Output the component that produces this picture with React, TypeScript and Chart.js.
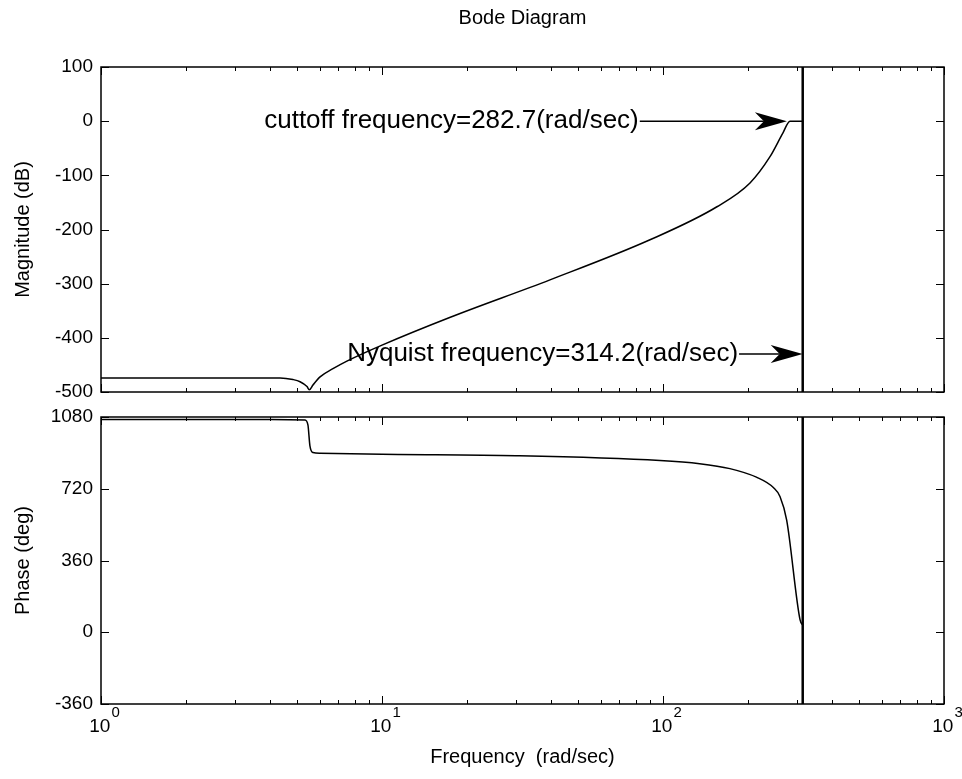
import React, { useEffect, useRef } from 'react';
import { Chart, registerables } from 'chart.js';

Chart.register(...registerables);

const FONT = 'Arial, "Liberation Sans", Helvetica, sans-serif';

// ---- data ----
const MAG_FREQ = [1, 4, 4.34, 4.82, 5.11, 5.41, 5.51, 5.68, 6.02, 6.69, 7.5, 10.05, 17.5, 39.6, 89.9, 155.6, 204, 240, 267, 283, 314.2];
const MAG_DB = [-474, -474, -474, -477, -481, -490, -496, -487, -472, -457, -443, -413, -362, -293, -219, -158, -114, -66, -22, 0, 0];

const PHASE_FREQ = [1, 4, 5.32, 5.45, 5.54, 5.68, 6.02, 10, 30, 97.6, 135, 173, 215, 247, 261, 275.5, 307.5, 314.2];
const PHASE_DEG = [1068, 1068, 1065, 1040, 935, 902, 898, 893, 886, 862, 846, 821, 778, 726, 680, 563, 62, 36];

const NYQUIST_FREQ = 314.2;

const X_MIN = 1;
const X_MAX = 1000;
const MAG_MIN = -500;
const MAG_MAX = 100;
const MAG_STEP = 100;
const PHASE_MIN = -360;
const PHASE_MAX = 1080;
const PHASE_STEP = 360;

const X_LABEL_VALUES = [1, 10, 100, 1000];
const X_LABEL_BASE = '10';
const X_LABEL_EXPONENTS = ['0', '1', '2', '3'];
const X_MAJOR_TICKS = [1, 10, 100, 1000];
const X_MINOR_TICKS = [2, 3, 4, 5, 6, 7, 8, 9, 20, 30, 40, 50, 60, 70, 80, 90, 200, 300, 400, 500, 600, 700, 800, 900];

const TITLE = 'Bode Diagram';
const MAG_LABEL = 'Magnitude (dB)';
const PHASE_LABEL = 'Phase (deg)';
const X_LABEL = 'Frequency  (rad/sec)';

const ANNOT_TEXTS = ['cuttoff frequency=282.7(rad/sec)', 'Nyquist frequency=314.2(rad/sec)'];
const ANNOT_TAIL_FREQ = [82, 185];
const ANNOT_TIP_FREQ = [276, 314.2];
const ANNOT_DB = [0, -430];

// ---- plugins ----
const framePlugin = {
  id: 'matlabFrame',
  afterDraw(chart: any) {
    const { ctx, chartArea } = chart;
    const { left, right, top, bottom } = chartArea;
    const xs = chart.scales.x;
    const ys = chart.scales.y;
    ctx.save();
    ctx.strokeStyle = '#000';
    ctx.lineWidth = 1;
    ctx.beginPath();
    const drawX = (v: number, len: number) => {
      const px = Math.round(xs.getPixelForValue(v)) + 0.5;
      ctx.moveTo(px, bottom);
      ctx.lineTo(px, bottom - len);
      ctx.moveTo(px, top);
      ctx.lineTo(px, top + len);
    };
    X_MAJOR_TICKS.forEach((v) => drawX(v, 8));
    X_MINOR_TICKS.forEach((v) => drawX(v, 4));
    ys.ticks.forEach((t: any) => {
      const py = Math.round(ys.getPixelForValue(t.value)) + 0.5;
      ctx.moveTo(left, py);
      ctx.lineTo(left + 8, py);
      ctx.moveTo(right, py);
      ctx.lineTo(right - 8, py);
    });
    ctx.stroke();
    ctx.lineWidth = 1.5;
    ctx.strokeRect(left, top, right - left, bottom - top);
    ctx.restore();
  },
};

const annotPlugin = {
  id: 'bodeAnnotations',
  afterDatasetsDraw(chart: any) {
    const { ctx } = chart;
    const xs = chart.scales.x;
    const ys = chart.scales.y;
    ctx.save();
    ctx.fillStyle = '#000';
    ctx.strokeStyle = '#000';
    ctx.font = `26px ${FONT}`;
    ANNOT_TEXTS.forEach((txt, i) => {
      const tailX = xs.getPixelForValue(ANNOT_TAIL_FREQ[i]);
      const tipX = xs.getPixelForValue(ANNOT_TIP_FREQ[i]);
      const y = ys.getPixelForValue(ANNOT_DB[i]);
      ctx.textAlign = 'right';
      ctx.textBaseline = 'middle';
      ctx.fillText(txt, tailX, y);
      const headLen = 32;
      const headW = 9;
      const notch = 9;
      ctx.lineWidth = 1.5;
      ctx.beginPath();
      ctx.moveTo(tailX + 1, y);
      ctx.lineTo(tipX - headLen + notch, y);
      ctx.stroke();
      ctx.beginPath();
      ctx.moveTo(tipX, y);
      ctx.lineTo(tipX - headLen, y - headW);
      ctx.lineTo(tipX - headLen + notch, y);
      ctx.lineTo(tipX - headLen, y + headW);
      ctx.closePath();
      ctx.fill();
    });
    ctx.restore();
  },
};

const xLabelPlugin = {
  id: 'powerLabels',
  afterDraw(chart: any) {
    const { ctx, chartArea } = chart;
    const xs = chart.scales.x;
    ctx.save();
    ctx.fillStyle = '#000';
    ctx.textAlign = 'left';
    ctx.textBaseline = 'alphabetic';
    X_LABEL_VALUES.forEach((v, i) => {
      const px = xs.getPixelForValue(v);
      ctx.font = `19px ${FONT}`;
      const wb = ctx.measureText(X_LABEL_BASE).width;
      ctx.font = `15px ${FONT}`;
      const we = ctx.measureText(X_LABEL_EXPONENTS[i]).width;
      const start = px - (wb + we) / 2 + 3;
      ctx.font = `19px ${FONT}`;
      ctx.fillText(X_LABEL_BASE, start, chartArea.bottom + 28);
      ctx.font = `15px ${FONT}`;
      ctx.fillText(X_LABEL_EXPONENTS[i], start + wb + 1, chartArea.bottom + 13);
    });
    ctx.restore();
  },
};

const lineDs = (xsArr: number[], ysArr: number[], width: number, mono: boolean) => ({
  data: xsArr.map((x, i) => ({ x, y: ysArr[i] })),
  showLine: true,
  borderColor: '#000',
  backgroundColor: '#000',
  borderWidth: width,
  pointRadius: 0,
  fill: false,
  cubicInterpolationMode: mono ? 'monotone' : 'default',
  tension: 0,
});

const yAxis = (min: number, max: number, step: number, label: string) => ({
  type: 'linear',
  position: 'left',
  min,
  max,
  ticks: {
    stepSize: step,
    color: '#000',
    font: { size: 19, family: FONT },
    padding: 8,
    callback: (v: any) => String(v),
  },
  grid: { display: false, drawTicks: false },
  border: { display: false },
  title: {
    display: true,
    text: label,
    color: '#000',
    font: { size: 20, family: FONT },
    padding: { top: 11, bottom: 0 },
  },
  afterFit: (scale: any) => {
    scale.width = 101;
  },
});

export default function App() {
  const topRef = useRef<HTMLCanvasElement>(null);
  const botRef = useRef<HTMLCanvasElement>(null);

  useEffect(() => {
    Chart.defaults.font.family = FONT;
    const top = new Chart(topRef.current as HTMLCanvasElement, {
      type: 'scatter',
      data: {
        datasets: [
          lineDs(MAG_FREQ, MAG_DB, 1.5, true),
          lineDs([NYQUIST_FREQ, NYQUIST_FREQ], [MAG_MIN, MAG_MAX], 2.5, false),
        ] as any,
      },
      options: {
        responsive: false,
        animation: false,
        events: [],
        layout: { padding: { left: 0, top: 0, right: 18, bottom: 387 } },
        plugins: {
          legend: { display: false },
          tooltip: { enabled: false },
          title: {
            display: true,
            text: TITLE,
            fullSize: false,
            color: '#000',
            font: { size: 20, family: FONT, weight: 'normal' },
            padding: { top: 6, bottom: 37 },
          },
        },
        scales: {
          x: { type: 'logarithmic', min: X_MIN, max: X_MAX, display: false },
          y: yAxis(MAG_MIN, MAG_MAX, MAG_STEP, MAG_LABEL),
        },
      } as any,
      plugins: [framePlugin, annotPlugin],
    });

    const bot = new Chart(botRef.current as HTMLCanvasElement, {
      type: 'scatter',
      data: {
        datasets: [
          lineDs(PHASE_FREQ, PHASE_DEG, 1.5, true),
          lineDs([NYQUIST_FREQ, NYQUIST_FREQ], [PHASE_MIN, PHASE_MAX], 2.5, false),
        ] as any,
      },
      options: {
        responsive: false,
        animation: false,
        events: [],
        layout: { padding: { left: 0, top: 417, right: 18, bottom: 0 } },
        plugins: {
          legend: { display: false },
          tooltip: { enabled: false },
        },
        scales: {
          x: {
            type: 'logarithmic',
            min: X_MIN,
            max: X_MAX,
            ticks: { display: false },
            grid: { display: false, drawTicks: false },
            border: { display: false },
            title: {
              display: true,
              text: X_LABEL,
              color: '#000',
              font: { size: 20, family: FONT },
              padding: { top: 0, bottom: 10 },
            },
            afterFit: (scale: any) => {
              scale.height = 75;
            },
          },
          y: yAxis(PHASE_MIN, PHASE_MAX, PHASE_STEP, PHASE_LABEL),
        },
      } as any,
      plugins: [framePlugin, xLabelPlugin],
    });

    return () => {
      top.destroy();
      bot.destroy();
    };
  }, []);

  const canvasStyle: React.CSSProperties = { position: 'absolute', left: 0, top: 0, display: 'block' };
  return (
    <div style={{ position: 'absolute', left: 0, top: 0, width: 962, height: 779, background: '#fff', overflow: 'hidden' }}>
      <canvas ref={topRef} width={962} height={779} style={canvasStyle} />
      <canvas ref={botRef} width={962} height={779} style={canvasStyle} />
    </div>
  );
}
